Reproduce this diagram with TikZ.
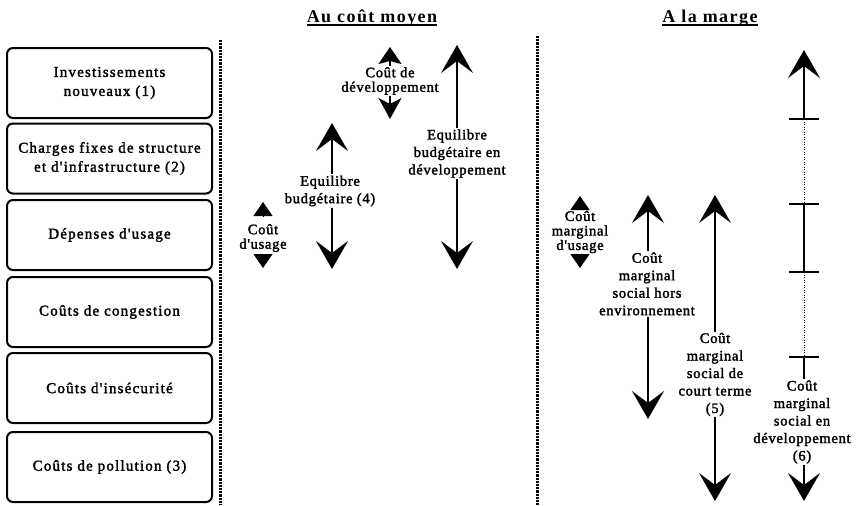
\documentclass[tikz,border=0pt]{standalone}
\usepackage{fontspec}
\setmainfont{Liberation Serif}
\newfontfamily\boxfont[LetterSpace=8,FakeBold=2]{Liberation Serif}
\newfontfamily\lblfont[LetterSpace=5,FakeBold=2]{Liberation Serif}
\newfontfamily\headfont[LetterSpace=8]{Liberation Serif}
\usetikzlibrary{arrows.meta}
\begin{document}
\begin{tikzpicture}[x=1pt,y=-1pt,
  costbox/.style={draw, line width=2pt, rounded corners=6pt, minimum width=205pt, minimum height=70pt, align=center, font=\boxfont\fontsize{15}{19}\selectfont, inner sep=2pt},
  lbl/.style={align=center, font=\lblfont\fontsize{14.5}{17.5}\selectfont, inner sep=1pt},
  tightlbl/.style={align=center, font=\lblfont\fontsize{14.5}{14.5}\selectfont, inner sep=1pt},
  sep/.style={line width=3pt, dash pattern=on 2.2pt off 1pt},
  shaft/.style={line width=1.3pt},
  bigtip/.style={shaft, -{Stealth[length=28pt,width=32pt,inset=12pt]}},
  tri/.style={-{Triangle[length=14pt,width=19pt]}, line width=0.8pt},
  tickmark/.style={line width=1.3pt},
  thindots/.style={line width=0.7pt, dash pattern=on 1pt off 1.5pt},
  head/.style={font=\headfont\bfseries\fontsize{18}{22}\selectfont, inner sep=0pt, anchor=base},
]
\useasboundingbox (0,0) rectangle (857,506);

% cost boxes
\node[costbox] (b1) at (109.5,83) {Investissements\\nouveaux (1)};
\node[costbox] (b2) at (109.5,158.5) {Charges fixes de structure\\et d'infrastructure (2)};
\node[costbox] (b3) at (109.5,235) {Dépenses d'usage};
\node[costbox] (b4) at (109.5,312) {Coûts de congestion};
\node[costbox] (b5) at (109.5,388) {Coûts d'insécurité};
\node[costbox] (b6) at (109.5,467) {Coûts de pollution (3)};

% separators
\coordinate (s1t) at (220.5,40); \coordinate (s1b) at (220.5,505);
\coordinate (s2t) at (537.5,36); \coordinate (s2b) at (537.5,505);
\draw[sep] (s1t) -- (s1b);
\draw[sep] (s2t) -- (s2b);

% headings
\node[head] (h1) at (372,22) {Au coût moyen};
\draw[line width=1.2pt] ([yshift=-3pt]h1.base west) -- ([yshift=-3pt]h1.base east);
\node[head] (h2) at (710,22) {A la marge};
\draw[line width=1.2pt] ([yshift=-3pt]h2.base west) -- ([yshift=-3pt]h2.base east);

% Au cout moyen
\node[tightlbl] (cu) at (263,238) {Coût\\d'usage};
\coordinate (cuT) at (263,202); \coordinate (cuTb) at (263,216);
\coordinate (cuB) at (263,268); \coordinate (cuBb) at (263,254);
\draw[tri] (cuTb) -- (cuT);
\draw[tri] (cuBb) -- (cuB);

\node[lbl] (eb) at (330,191) {Equilibre\\budgétaire (4)};
\coordinate (ebT) at (332,123); \coordinate (ebB) at (332,269);
\draw[bigtip] (ebT |- eb.north) -- (ebT);
\draw[bigtip] (ebB |- eb.south) -- (ebB);

\node[tightlbl] (cd) at (390,81) {Coût de\\développement};
\coordinate (cdT) at (390,47); \coordinate (cdB) at (390,119);
\draw[shaft,-{Stealth[length=17pt,width=23pt,inset=3pt]}] (cd.north) -- (cdT);
\draw[shaft,-{Stealth[length=21pt,width=23pt,inset=6pt]}] (cd.south) -- (cdB);

\node[lbl] (ed) at (457,153.5) {Equilibre\\budgétaire en\\développement};
\coordinate (edT) at (457,45); \coordinate (edB) at (457,269);
\draw[bigtip] (ed.north) -- (edT);
\draw[bigtip] (ed.south) -- (edB);

% A la marge
\node[tightlbl] (cmu) at (580,232) {Coût\\marginal\\d'usage};
\coordinate (cmuT) at (580,196); \coordinate (cmuTb) at (580,209);
\coordinate (cmuB) at (580,268); \coordinate (cmuBb) at (580,255);
\draw[tri] (cmuTb) -- (cmuT);
\draw[tri] (cmuBb) -- (cmuB);

\node[lbl] (cmh) at (647,284) {Coût\\marginal\\social hors\\environnement};
\coordinate (cmhT) at (648,195); \coordinate (cmhB) at (648,419);
\draw[bigtip] (cmhT |- cmh.north) -- (cmhT);
\draw[bigtip] (cmhB |- cmh.south) -- (cmhB);

\node[lbl] (cms) at (715,374.5) {Coût\\marginal\\social de\\court terme\\(5)};
\coordinate (cmsT) at (715,195); \coordinate (cmsB) at (715,501);
\draw[bigtip] (cms.north) -- (cmsT);
\draw[bigtip] (cms.south) -- (cmsB);

\node[lbl] (cmd) at (802,422) {Coût\\marginal\\social en\\développement\\(6)};
\coordinate (cmdT) at (804,50);
\coordinate (t1) at (804,119); \coordinate (t2) at (804,204);
\coordinate (t3) at (804,272); \coordinate (t4) at (804,357);
\coordinate (cmdB) at (804,501);
\draw[bigtip] (t1) -- (cmdT);
\draw[thindots] (t1) -- (t2);
\draw[shaft] (t2) -- (t3);
\draw[thindots] (t3) -- (t4);
\draw[shaft] (t4) -- (cmdT |- cmd.north);
\draw[bigtip] (cmdB |- cmd.south) -- (cmdB);
\foreach \t in {t1,t2,t3,t4}
  \draw[tickmark] ([xshift=-15pt]\t) -- ([xshift=15pt]\t);
\end{tikzpicture}
\end{document}
